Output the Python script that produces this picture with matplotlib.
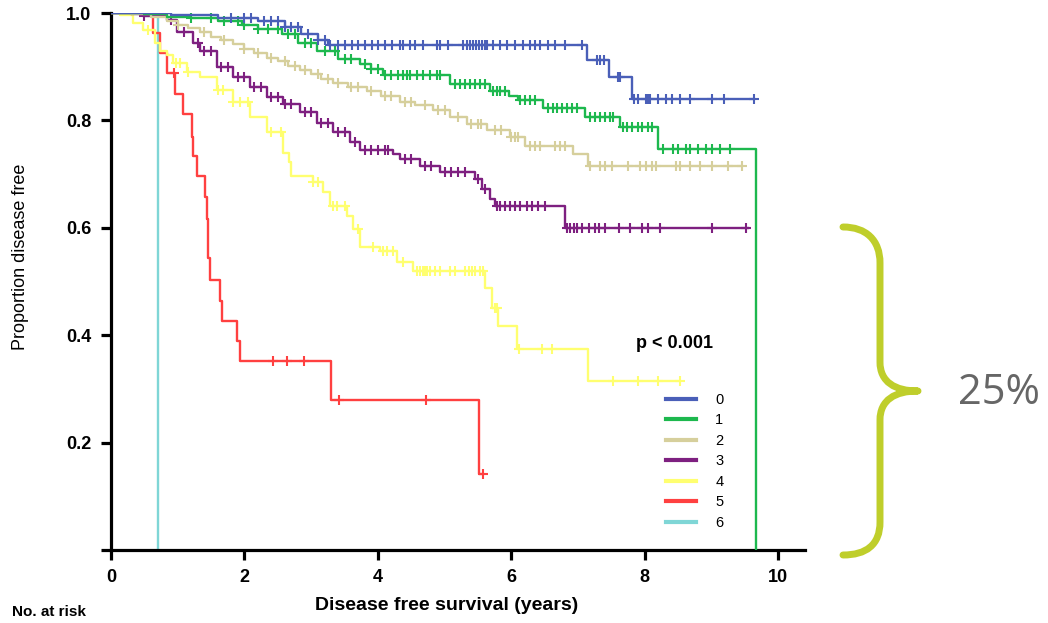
import numpy as np
import matplotlib
matplotlib.use('Agg')
import matplotlib.pyplot as plt
from matplotlib.path import Path
from matplotlib.patches import PathPatch

# ------------------------------------------------------------------
# 1. data
# ------------------------------------------------------------------

group_labels = ['0', '1', '2', '3', '4', '5', '6']
group_colors = ['#4a5fb8', '#1db84e', '#d6cf9c', '#7e2080', '#ffff70', '#ff4040', '#7fd6d6']

# group 0
t0 = [0.9, 1.6, 2.2, 2.6, 2.85, 3.1, 3.25, 7.14, 7.47, 7.81]
s0 = [0.996, 0.99, 0.985, 0.974, 0.96, 0.95, 0.941, 0.913, 0.88, 0.84]
end0 = 9.63
cens0 = [1.8, 2.0, 2.1, 2.3, 2.4, 2.5, 2.6, 2.7, 2.8, 2.95, 3.1, 3.2,
         3.28, 3.40, 3.51, 3.61, 3.70, 3.81, 3.91, 4.00, 4.11, 4.21, 4.33, 4.38,
         4.48, 4.56, 4.68, 4.89, 4.93, 5.05, 5.28, 5.34, 5.38, 5.43, 5.47, 5.52,
         5.56, 5.61, 5.64, 5.73, 5.83, 5.94, 6.06, 6.18, 6.28, 6.36, 6.43, 6.55,
         6.66, 6.81, 7.06, 7.29, 7.33, 7.39, 7.60, 7.63, 7.83, 7.89, 8.01, 8.04,
         8.08, 8.19, 8.31, 8.41, 8.53, 8.68, 9.01, 9.18, 9.63]

# group 1
t1 = [0.5, 0.84, 1.2, 1.6, 1.97, 2.2, 2.57, 2.8, 3.09, 3.4, 3.73, 3.9, 4.08,
      5.08, 5.68, 5.97, 6.1, 6.48, 7.11, 7.63, 8.2, 9.67]
s1 = [0.998, 0.993, 0.99, 0.985, 0.978, 0.97, 0.96, 0.945, 0.93, 0.915, 0.905,
      0.895, 0.885, 0.867, 0.854, 0.845, 0.838, 0.824, 0.807, 0.787, 0.746, 0.0]
end1 = 9.67
cens1 = [1.2, 1.5, 1.7, 1.9, 2.0, 2.2, 2.35, 2.5, 2.65, 2.75, 2.9, 3.0, 3.2, 3.35,
         3.5, 3.6, 3.8, 3.9, 4.0, 4.1, 4.2, 4.3, 4.38, 4.44, 4.48, 4.59, 4.68,
         4.78, 4.89, 4.93, 5.16, 5.23, 5.31, 5.38, 5.46, 5.53, 5.61, 5.73, 5.79,
         5.83, 5.91, 6.13, 6.21, 6.28, 6.36, 6.55, 6.63, 6.69, 6.76, 6.84, 6.91,
         6.99, 7.18, 7.26, 7.33, 7.41, 7.48, 7.53, 7.68, 7.74, 7.81, 7.89, 7.96,
         8.04, 8.11, 8.27, 8.42, 8.50, 8.61, 8.68, 8.79, 8.91, 9.01, 9.13, 9.28]

# group 2
t2 = [0.3, 0.6, 0.84, 1.0, 1.15, 1.33, 1.5, 1.65, 1.83, 2.0, 2.15, 2.34, 2.5,
      2.65, 2.83, 3.0, 3.15, 3.33, 3.55, 3.84, 4.05, 4.33, 4.55, 4.83, 5.08,
      5.34, 5.64, 5.98, 6.21, 6.93, 7.15]
s2 = [0.998, 0.993, 0.985, 0.978, 0.972, 0.965, 0.955, 0.95, 0.942, 0.933,
      0.925, 0.917, 0.91, 0.902, 0.894, 0.886, 0.878, 0.87, 0.863, 0.854, 0.845,
      0.835, 0.828, 0.82, 0.807, 0.793, 0.783, 0.77, 0.752, 0.737, 0.715]
end2 = 9.46
cens2 = [1.0, 1.4, 1.7, 2.0, 2.2, 2.4, 2.6, 2.75, 2.9, 3.1, 3.25, 3.4, 3.6, 3.7,
         3.9, 4.1, 4.2, 4.4, 4.5, 4.7, 4.9, 5.0, 5.2, 5.4, 5.5, 5.55, 5.75, 5.85,
         6.0, 6.05, 6.1, 6.28, 6.36, 6.43, 6.65, 6.73, 6.81, 7.18, 7.33, 7.41,
         7.51, 7.75, 7.93, 8.01, 8.11, 8.16, 8.46, 8.53, 8.68, 8.83, 9.01, 9.24, 9.46]

# group 3
t3 = [0.3, 0.48, 0.84, 0.99, 1.23, 1.33, 1.59, 1.83, 2.08, 2.34, 2.58, 2.83,
      3.09, 3.33, 3.58, 3.73, 4.23, 4.33, 4.63, 4.93, 5.46, 5.56, 5.68, 5.76, 6.81]
s3 = [0.998, 0.995, 0.987, 0.965, 0.944, 0.93, 0.9, 0.88, 0.863, 0.844, 0.83,
      0.815, 0.796, 0.778, 0.759, 0.745, 0.737, 0.728, 0.715, 0.704, 0.69,
      0.672, 0.654, 0.641, 0.6]
end3 = 9.54
cens3 = [0.5, 0.9, 1.1, 1.3, 1.4, 1.5, 1.65, 1.75, 1.9, 2.0, 2.15, 2.25, 2.4, 2.5,
         2.6, 2.7, 2.9, 3.0, 3.15, 3.25, 3.4, 3.5, 3.65, 3.8, 3.9, 4.0, 4.1, 4.15,
         4.4, 4.5, 4.7, 4.8, 5.0, 5.1, 5.2, 5.3, 5.5, 5.6, 5.79, 5.83, 5.91, 5.98,
         6.06, 6.13, 6.24, 6.31, 6.40, 6.51, 6.83, 6.88, 6.94, 6.99, 7.06, 7.17,
         7.26, 7.32, 7.41, 7.62, 7.78, 7.96, 8.04, 8.23, 9.01, 9.51]

# group 4
t4 = [0.13, 0.33, 0.48, 0.66, 0.73, 0.84, 0.93, 1.14, 1.33, 1.59, 1.83, 2.08,
      2.34, 2.58, 2.67, 2.70, 3.03, 3.18, 3.28, 3.54, 3.63, 3.73, 4.03, 4.29,
      4.53, 5.61, 5.71, 5.80, 6.09, 7.15]
s4 = [0.996, 0.981, 0.968, 0.944, 0.93, 0.922, 0.907, 0.89, 0.88, 0.857, 0.835,
      0.807, 0.778, 0.74, 0.722, 0.696, 0.685, 0.667, 0.641, 0.622, 0.598, 0.565,
      0.556, 0.537, 0.52, 0.487, 0.45, 0.417, 0.374, 0.315]
end4 = 8.53
cens4 = [0.55, 0.97, 1.03, 1.15, 1.6, 1.68, 1.83, 1.93, 2.05, 2.4, 2.55, 3.03,
         3.1, 3.33, 3.39, 3.51, 3.7, 3.93, 4.08, 4.14, 4.23, 4.38, 4.59, 4.63,
         4.68, 4.71, 4.74, 4.78, 4.86, 4.93, 5.08, 5.16, 5.31, 5.36, 5.41, 5.46,
         5.53, 5.58, 5.75, 5.78, 6.12, 6.46, 6.61, 7.53, 7.90, 8.19, 8.53]

# group 5
t5 = [0.63, 0.73, 0.84, 0.96, 1.08, 1.21, 1.23, 1.29, 1.41, 1.44, 1.46, 1.48,
      1.63, 1.66, 1.89, 1.93, 3.30, 5.52]
s5 = [0.963, 0.926, 0.889, 0.85, 0.811, 0.77, 0.733, 0.696, 0.657, 0.617, 0.543,
      0.502, 0.463, 0.426, 0.389, 0.352, 0.28, 0.141]
end5 = 5.57
cens5 = [0.95, 2.43, 2.64, 2.89, 3.42, 4.72, 5.57]

# group 6
t6 = [0.70]
s6 = [0.0]
end6 = 0.70
cens6 = []

step_times = [t0, t1, t2, t3, t4, t5, t6]
step_surv = [s0, s1, s2, s3, s4, s5, s6]
end_times = [end0, end1, end2, end3, end4, end5, end6]
censor_times = [cens0, cens1, cens2, cens3, cens4, cens5, cens6]

x_ticks = [0, 2, 4, 6, 8, 10]
y_ticks = [0, 0.2, 0.4, 0.6, 0.8, 1.0]
y_tick_labels = ['', '0.2', '0.4', '0.6', '0.8', '1.0']

# ------------------------------------------------------------------
# 2. figure
# ------------------------------------------------------------------

plt.rcParams['font.family'] = ['Liberation Sans', 'DejaVu Sans']

W, H = 1048, 623
fig = plt.figure(figsize=(W / 100, H / 100), dpi=100)
ax = fig.add_axes([111 / W, 1 - 550 / H, (805 - 111) / W, (550 - 13) / H])

# draw the curves (group 6 at the bottom, group 0 on top)
for i in reversed(range(len(group_labels))):
    times = np.array([0.0] + step_times[i] + [end_times[i]])
    surv = np.array([1.0] + step_surv[i] + [step_surv[i][-1]])
    ax.step(times, surv, where='post', color=group_colors[i], lw=1.7,
            label=group_labels[i], zorder=2 + (6 - i))
    if censor_times[i]:
        c = np.array(censor_times[i])
        idx = np.searchsorted(times, c, side='right') - 1
        ax.plot(c, surv[idx], ls='none', marker='+', ms=7, mew=1.5,
                color=group_colors[i], zorder=2 + (6 - i))

ax.set_xlim(0, 10.4)
ax.set_ylim(0.005, 1.0)

for side in ['top', 'right']:
    ax.spines[side].set_visible(False)
for side in ['left', 'bottom']:
    ax.spines[side].set_linewidth(2.3)
ax.spines['left'].set_bounds(0.005, 1.0)

ax.set_xticks(x_ticks)
ax.set_yticks(y_ticks)
ax.set_yticklabels(y_tick_labels)
ax.tick_params(axis='both', direction='out', length=7, width=2.3,
               labelsize=13, pad=7)
for lab in ax.get_xticklabels() + ax.get_yticklabels():
    lab.set_fontweight('bold')

ax.set_xlabel('Disease free survival (years)', fontsize=14, fontweight='bold')
ax.xaxis.set_label_coords(0.484, -0.088)
ax.set_ylabel('Proportion disease free', fontsize=13)
ax.yaxis.set_label_coords(-0.118, 0.546)

fig.text(636 / W, 1 - 343 / H, 'p < 0.001', fontsize=13, fontweight='bold',
         va='center', ha='left')
fig.text(12 / W, 1 - 612 / H, 'No. at risk', fontsize=11, fontweight='bold',
         ha='left', va='center')

# legend: lines only, in order 0..6
handles, labels = ax.get_legend_handles_labels()
order = np.argsort([int(l) for l in labels])
leg = ax.legend([handles[k] for k in order], [labels[k] for k in order],
                loc='upper left', bbox_to_anchor=(654 / W, 1 - 381 / H),
                bbox_transform=fig.transFigure, frameon=False, fontsize=10.5,
                handlelength=2.1, handletextpad=1.3, labelspacing=0.45,
                borderpad=0.3)
for line in leg.get_lines():
    line.set_linewidth(3)

# ------------------------------------------------------------------
# 3. brace and 25% annotation
# ------------------------------------------------------------------

def px(x, y):
    return (x / W, 1 - y / H)

verts = [px(843, 227), px(866, 227), px(880, 240), px(880, 263),
         px(880, 362),
         px(880, 382), px(895, 391), px(918, 391),
         px(895, 391), px(880, 400), px(880, 420),
         px(880, 522),
         px(880, 545), px(866, 555), px(843, 555)]
codes = [Path.MOVETO, Path.CURVE4, Path.CURVE4, Path.CURVE4,
         Path.LINETO,
         Path.CURVE4, Path.CURVE4, Path.CURVE4,
         Path.CURVE4, Path.CURVE4, Path.CURVE4,
         Path.LINETO,
         Path.CURVE4, Path.CURVE4, Path.CURVE4]
brace = PathPatch(Path(verts, codes), transform=fig.transFigure, fill=False,
                  edgecolor='#bfce2b', lw=5, capstyle='round', joinstyle='round')
fig.add_artist(brace)

fig.text(958 / W, 1 - 393 / H, '25%', fontsize=30, color='#666666',
         family=['Open Sans', 'DejaVu Sans'], ha='left', va='center')

fig.savefig('out.png', dpi=100)
